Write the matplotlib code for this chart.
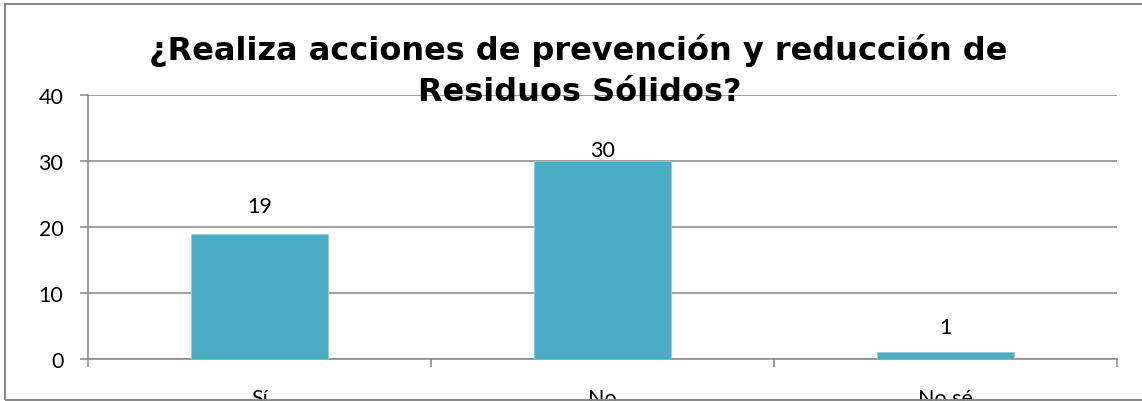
import matplotlib
matplotlib.use('Agg')
import matplotlib.pyplot as plt
from matplotlib.patches import Rectangle

categories = ['Sí', 'No', 'No sé']
values = [19, 30, 1]
yticks = [0, 10, 20, 30, 40]
title_lines = ['¿Realiza acciones de prevención y reducción de', 'Residuos Sólidos?']

# label offsets above the bar top, in points (Excel placed "30" tight on the bar)
label_offsets = [13, 1, 11]

grid_color = '#868686'
bar_color = '#4BACC6'

fig = plt.figure(figsize=(11.42, 4.02), dpi=100)
ax = fig.add_axes([88 / 1142, 42 / 402, 1029 / 1142, 264 / 402])

x = list(range(len(categories)))
ax.bar(x, values, width=0.4, color=bar_color, edgecolor='#8fcde0', linewidth=0.6, zorder=3)

for xi, v, off in zip(x, values, label_offsets):
    ax.annotate(str(v), (xi, v), xytext=(0, off), textcoords='offset points',
                ha='center', va='bottom', fontsize=15.5, family='Lato', color='black')

ax.set_xlim(-0.5, len(categories) - 0.5)
ax.set_ylim(0, 40)
ax.set_yticks(yticks)
ax.set_yticklabels([str(t) for t in yticks], fontsize=15.5, family='Lato')
ax.yaxis.grid(True, color=grid_color, linewidth=1.1, zorder=0)
ax.set_axisbelow(True)

ax.set_xticks(x)
ax.set_xticklabels(categories, fontsize=15.5, family='Lato')
ax.set_xticks([i - 0.5 for i in range(len(categories) + 1)], minor=True)
ax.tick_params(axis='x', which='major', length=0, pad=21)
ax.tick_params(axis='x', which='minor', length=5.8, width=1.1, color=grid_color, direction='out')
ax.tick_params(axis='y', length=5.8, width=1.1, color=grid_color, direction='out', pad=12)

for s in ['top', 'right']:
    ax.spines[s].set_visible(False)
for s in ['left', 'bottom']:
    ax.spines[s].set_color(grid_color)
    ax.spines[s].set_linewidth(1.1)

fig.text(578 / 1142, (402 - 60) / 402, title_lines[0], ha='center', va='baseline',
         fontsize=23, fontweight='bold', family='DejaVu Sans')
fig.text(580 / 1142, (402 - 101) / 402, title_lines[1], ha='center', va='baseline',
         fontsize=23, fontweight='bold', family='DejaVu Sans')

# chart border
fig.patches.append(Rectangle((5 / 1142, 1.5 / 402), 1.1, (397 - 1.5) / 402,
                             transform=fig.transFigure, fill=False,
                             edgecolor=grid_color, linewidth=1.4))

fig.savefig('out.png', dpi=100)
